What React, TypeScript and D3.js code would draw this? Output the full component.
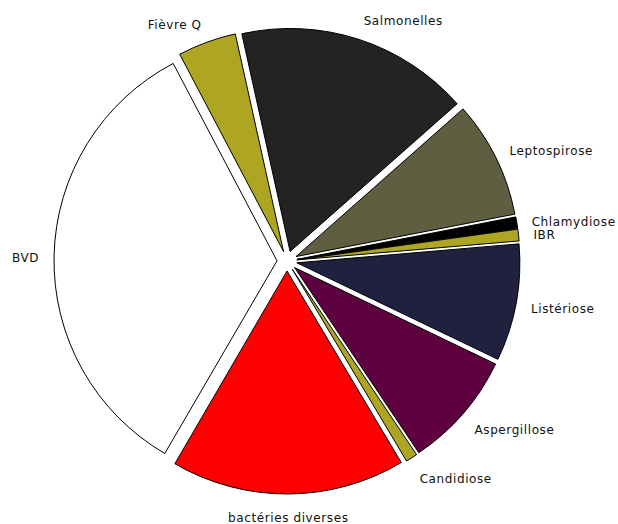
import React from "react";
import * as d3 from "d3";

const categories = [
  "Salmonelles",
  "Leptospirose",
  "Chlamydiose",
  "IBR",
  "Listériose",
  "Aspergillose",
  "Candidiose",
  "bactéries diverses",
  "BVD",
  "Fièvre Q",
];
const values = [20, 10, 1, 1, 10, 10, 1, 20, 40, 5];
const colors = [
  "#232323",
  "#5f5e40",
  "#000000",
  "#aea523",
  "#20203f",
  "#5f003f",
  "#aea523",
  "#ff0000",
  "#ffffff",
  "#aea523",
];

const W = 618;
const H = 524;
const CX = 287;
const CY = 261;
const R = 223;
const EXPLODE = 10;
const LABEL_R = 248;
const START_DEG = -12.5;

export default function App() {
  const data = categories.map((c, i) => ({ c, v: values[i], col: colors[i] }));
  const start = (START_DEG * Math.PI) / 180;
  const pie = d3
    .pie<any>()
    .sort(null)
    .value((d: any) => d.v)
    .startAngle(start)
    .endAngle(start + 2 * Math.PI);
  const arcs = pie(data);
  const arcGen = d3.arc<any>().innerRadius(0).outerRadius(R);

  return (
    <svg
      width={W}
      height={H}
      style={{ position: "absolute", left: 0, top: 0, background: "#fff" }}
      fontFamily="'DejaVu Sans', Verdana, sans-serif"
      fontSize={12}
    >
      <rect x={0} y={0} width={W} height={H} fill="#fff" />
      <g transform={`translate(${CX},${CY})`}>
        {arcs.map((a, i) => {
          const m = (a.startAngle + a.endAngle) / 2;
          const dx = EXPLODE * Math.sin(m);
          const dy = -EXPLODE * Math.cos(m);
          return (
            <path
              key={i}
              d={arcGen(a) as string}
              transform={`translate(${dx},${dy})`}
              fill={a.data.col}
              stroke="#000"
              strokeWidth={1}
              strokeLinejoin="miter"
            />
          );
        })}
        {arcs.map((a, i) => {
          const m = (a.startAngle + a.endAngle) / 2;
          const s = Math.sin(m);
          const c = Math.cos(m);
          const px = LABEL_R * s;
          const py = -LABEL_R * c;
          const anchor = s > 0.1 ? "start" : s < -0.1 ? "end" : "middle";
          const by = py + 13 * (1 - c) / 2;
          return (
            <text
              key={"l" + i}
              x={px}
              y={by}
              textAnchor={anchor}
              fill="#111"
              letterSpacing={0.6}
            >
              {a.data.c}
            </text>
          );
        })}
      </g>
    </svg>
  );
}
